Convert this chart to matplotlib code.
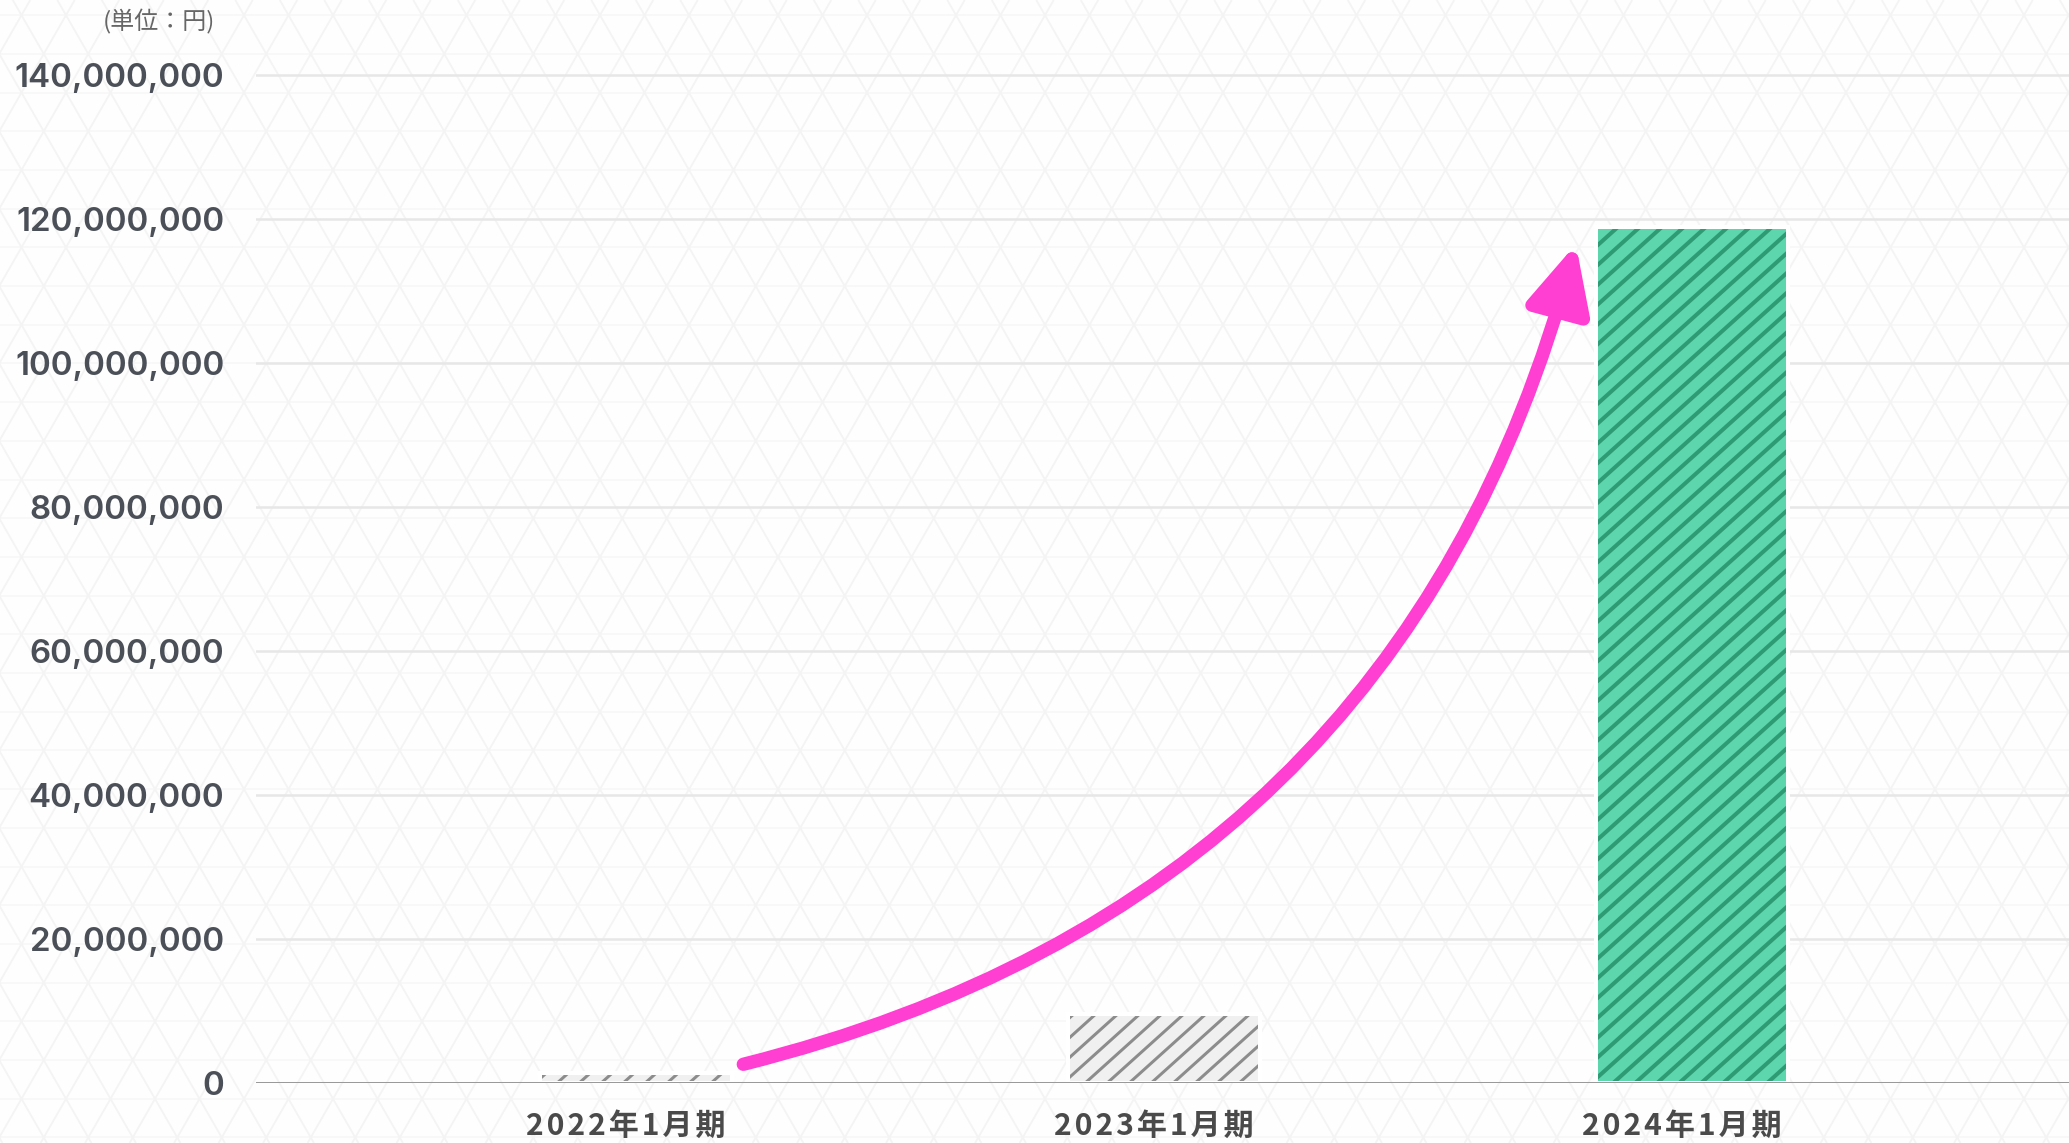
import numpy as np
import matplotlib
matplotlib.use("Agg")
import matplotlib.pyplot as plt
from matplotlib.path import Path
from matplotlib.patches import FancyArrowPatch
from matplotlib.collections import LineCollection
from matplotlib.ticker import FuncFormatter
from matplotlib.transforms import IdentityTransform, ScaledTranslation

# data
periods = ["2022年1月期", "2023年1月期", "2024年1月期"]
revenue = [1_400_000, 9_600_000, 118_900_000]
y_ticks = [0, 20_000_000, 40_000_000, 60_000_000, 80_000_000, 100_000_000, 120_000_000, 140_000_000]
unit_label = "(単位：円)"

bar_fill = ["#f0f0f0", "#f0f0f0", "#5dd5ad"]
bar_hatch = ["#8c8c8c", "#8c8c8c", "#2e9b74"]
hatch_lw = [1.8, 1.8, 2.4]
pink = "#ff3fd2"

DPI = 120
W, H = 2069, 1143
fig = plt.figure(figsize=(W / DPI, H / DPI), dpi=DPI, facecolor="#fefefe")

# faint triangle lattice in the background
bg = fig.add_axes([0, 0, 1, 1], zorder=-5)
bg.set_xlim(0, W)
bg.set_ylim(H, 0)
bg.axis("off")
P, R = 44.5, 38.7
x0, y0 = 333.0, 170.0
k = R / (P / 2)
diag, horiz = [], []
for yy in np.arange(y0 - 10 * R, H + R, R):
    horiz.append([(0, yy), (W, yy)])
for c in np.arange(x0 - 60 * P, W + 60 * P, P):
    diag.append([(c - y0 / k, 0), (c + (H - y0) / k, H)])
    diag.append([(c + y0 / k, 0), (c - (H - y0) / k, H)])
bg.add_collection(LineCollection(horiz, colors="#f7f7f7", linewidths=1.0))
bg.add_collection(LineCollection(diag, colors="#f4f4f4", linewidths=1.1))

# main axes
left = 256 / W
bottom = (H - 1083) / H
top_px = 75 - 14.4
ax = fig.add_axes([left, bottom, 1 - left, (1083 - top_px) / H])
ax.set_facecolor("none")
for s in ax.spines.values():
    s.set_visible(False)

x = np.arange(len(periods))
ax.set_xlim(-0.72, 2.714)
ax.set_ylim(0, 142_000_000)

ax.set_yticks(y_ticks)
ax.yaxis.set_major_formatter(FuncFormatter(lambda v, p: f"{int(v):,}"))
ax.grid(axis="y", color="#e7e7e7", linewidth=1.5, zorder=0)
ax.set_axisbelow(True)
ax.tick_params(axis="y", length=0, pad=19, labelsize=19.9, labelcolor="#4b5058")
for t in ax.get_yticklabels():
    t.set_fontfamily("Inter")
    t.set_fontweight("semibold")

# bars
bars = ax.bar(x, revenue, width=0.365, color=bar_fill, linewidth=0, zorder=2)

# diagonal stripes, clipped to each bar
ang = np.deg2rad(42)
step = 22.0
run = H / np.tan(ang)
for rect, hc, hl in zip(bars.patches, bar_hatch, hatch_lw):
    lines = [[(c, 0), (c + run, H)] for c in np.arange(-run, W + step, step)]
    lc = LineCollection(lines, colors=hc, linewidths=hl,
                        transform=IdentityTransform(), zorder=2.5)
    ax.add_collection(lc, autolim=False)
    lc.set_clip_path(rect)

ax.bar(x, revenue, width=0.365, fill=False, edgecolor="white",
       linewidth=2.4, zorder=3)

ax.axhline(0, color="#9a9a9a", linewidth=1.8, zorder=4)


def spaced(s):
    return "\u200a".join(s)


ax.set_xticks(x, [spaced(p) for p in periods])
ax.tick_params(axis="x", length=0, pad=17, labelsize=18, labelcolor="#4a4a4a")
shift = ScaledTranslation(-10 / DPI, 0, fig.dpi_scale_trans)
for t in ax.get_xticklabels():
    t.set_fontfamily(["Noto Sans CJK JP", "DejaVu Sans"])
    t.set_fontweight("bold")
    t.set_transform(t.get_transform() + shift)

# growth arrow
arrow_path = Path([(0.203, 2_600_000), (1.447, 25_400_000), (1.78, 116_500_000)],
                  [Path.MOVETO, Path.CURVE3, Path.CURVE3])
arr = FancyArrowPatch(path=arrow_path,
                      arrowstyle="-|>,head_length=33,head_width=16",
                      color=pink, linewidth=8.0, zorder=5)
ax.add_patch(arr)

fig.text(215 / W, 1 - 22 / H, unit_label, ha="right", va="center",
         fontsize=14.4, color="#666666", family=["Noto Sans CJK JP", "DejaVu Sans"])

fig.savefig("out.png", dpi=DPI, facecolor=fig.get_facecolor())
